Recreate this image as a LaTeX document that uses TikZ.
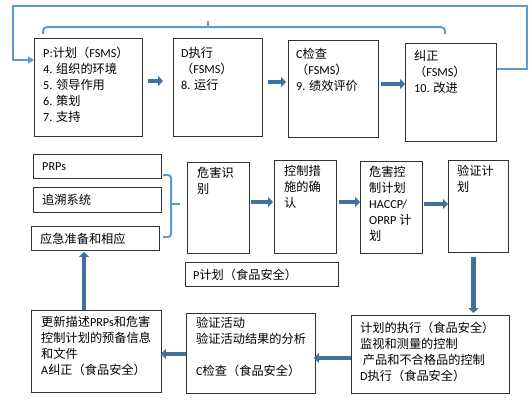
\documentclass[tikz,border=0pt]{standalone}
\usepackage{fontspec}
\setmainfont{Noto Sans CJK SC}
\newfontfamily\latf{Carlito}
\newcommand\La[1]{{\latf #1}}
\usetikzlibrary{calc,arrows.meta}
\definecolor{arrblue}{HTML}{41719C}
\definecolor{fbblue}{HTML}{5B9BD5}
\begin{document}
\begin{tikzpicture}[x=1pt,y=-1pt,
  box/.style={draw=black!80,line width=0.9pt,rectangle,inner sep=0pt,anchor=north west},
  txt/.style={anchor=north west,inner sep=0pt,align=left,font=\fontsize{12.2}{16}\selectfont},
  ctxt/.style={anchor=west,inner sep=0pt,align=left,font=\fontsize{12.2}{16}\selectfont},
  thick arrow/.style={draw=arrblue,line width=4.5pt,-{Triangle[width=10pt,length=5pt]}},
  fb/.style={draw=fbblue,line width=2pt},
  fbarrow/.style={fb,-{Triangle[width=7pt,length=6pt]}}]
\fill[white] (0,0) rectangle (532,416);
\useasboundingbox (0,0) rectangle (532,416);
% top row
\node[box,minimum width=108pt,minimum height=98pt] (P) at (34,38) {};
\node[box,minimum width=89pt,minimum height=98pt] (D) at (173,38) {};
\node[box,minimum width=90pt,minimum height=97pt] (C) at (288,40) {};
\node[box,minimum width=91pt,minimum height=98pt] (J) at (405,43) {};
\node[txt] (Pt) at ($(P.north west)+(9,9)$) {\La{P:}计划（\La{FSMS}）\\\La{4. }组织的环境\\\La{5. }领导作用\\\La{6. }策划\\\La{7. }支持};
\node[txt] (Dt) at ($(D.north west)+(8,9)$) {\La{D}执行\\（\La{FSMS}）\\\La{8. }运行};
\node[txt] (Ct) at ($(C.north west)+(8,8)$) {\La{C}检查\\（\La{FSMS}）\\\La{9. }绩效评价};
\node[txt] (Jt) at ($(J.north west)+(9,7)$) {纠正\\（\La{FSMS}）\\\La{10. }改进};
\draw[thick arrow] ($(P.east|-0,81)+(5,0)$) -- ($(D.west|-0,81)+(-10,0)$);
\draw[thick arrow] ($(D.east|-0,82)+(5,0)$) -- ($(C.west|-0,82)+(-2,0)$);
\draw[thick arrow] ($(C.east|-0,84)+(2,0)$) -- (J.west|-0,84);
% feedback lines
\draw[fbarrow] (J.east|-0,69) -- (527,69) -- (527,6) -- (13,6) -- (13,60) -- (P.west|-0,60);
\draw[fb,rounded corners=4pt] (43,34) -- (43,27) -- (445,27) -- (445,34);
\draw[fb] (208,27) -- (208,21);
% middle row
\node[box,minimum width=128pt,minimum height=24pt] (PRP) at (33,154) {};
\node[box,minimum width=128pt,minimum height=25pt] (TR) at (33,187) {};
\node[box,minimum width=128pt,minimum height=24pt] (EM) at (31,226) {};
\node[ctxt] (PRPt) at ($(PRP.west)+(9,0)$) {\La{PRPs}};
\node[ctxt] (TRt) at ($(TR.west)+(9,0)$) {追溯系统};
\node[ctxt] (EMt) at ($(EM.west)+(9,0)$) {应急准备和相应};
\draw[fb,rounded corners=3pt] (163,175) -- (171,175) -- (171,237) -- (163,237);
\draw[fb] (171,204) -- (180,204);
\node[box,minimum width=62pt,minimum height=91pt] (HI) at (187,162) {};
\node[box,minimum width=62pt,minimum height=93pt] (CM) at (274,160) {};
\node[box,minimum width=62pt,minimum height=92pt] (HC) at (360,161) {};
\node[box,minimum width=60pt,minimum height=92pt] (VP) at (448,160) {};
\node[box,minimum width=153pt,minimum height=24pt] (PF) at (185,262) {};
\node[txt] (HIt) at ($(HI.north west)+(10,5)$) {危害识\\别};
\node[txt] (CMt) at ($(CM.north west)+(10,5)$) {控制措\\施的确\\认};
\node[txt] (HCt) at ($(HC.north west)+(9,5)$) {危害控\\制计划\\\La{HACCP/}\\\La{OPRP }计\\划};
\node[txt] (VPt) at ($(VP.north west)+(9,5)$) {验证计\\划};
\node[ctxt] (PFt) at ($(PF.west)+(8,0)$) {\La{P}计划（食品安全）};
\draw[thick arrow] ($(HI.east|-0,202)+(1,0)$) -- ($(CM.west|-0,202)+(-1,0)$);
\draw[thick arrow] ($(CM.east|-0,202)+(2,0)$) -- (HC.west|-0,202);
\draw[thick arrow] ($(HC.east|-0,204)+(1,0)$) -- (VP.west|-0,204);
% bottom row
\node[box,minimum width=158pt,minimum height=78pt] (EX) at (351,315) {};
\node[box,minimum width=129pt,minimum height=80pt] (VA) at (186,313) {};
\node[box,minimum width=130pt,minimum height=82pt] (UP) at (31,310) {};
\node[txt] (EXt) at ($(EX.north west)+(9,7)$) {计划的执行（食品安全）\\监视和测量的控制\\\ 产品和不合格品的控制\\\La{D}执行（食品安全）};
\node[txt] (VAt) at ($(VA.north west)+(10,4)$) {验证活动\\验证活动结果的分析\\[16pt]\La{C}检查（食品安全）};
\node[txt] (UPt) at ($(UP.north west)+(10,6)$) {更新描述\La{PRPs}和危害\\控制计划的预备信息\\和文件\\\La{A}纠正（食品安全）};
\draw[thick arrow] ($(VP.south|-0,257)+(-5,0)$) -- ($(VP.south|-0,313)+(-5,0)$);
\draw[thick arrow] (EX.west|-0,358) -- ($(VA.east|-0,358)+(-2,0)$);
\draw[thick arrow] (VA.west|-0,354) -- ($(UP.east|-0,354)+(-1,0)$);
\draw[thick arrow] (UP.north west-|84,0) -- ($(EM.south west-|84,0)+(0,1)$);
\end{tikzpicture}
\end{document}
